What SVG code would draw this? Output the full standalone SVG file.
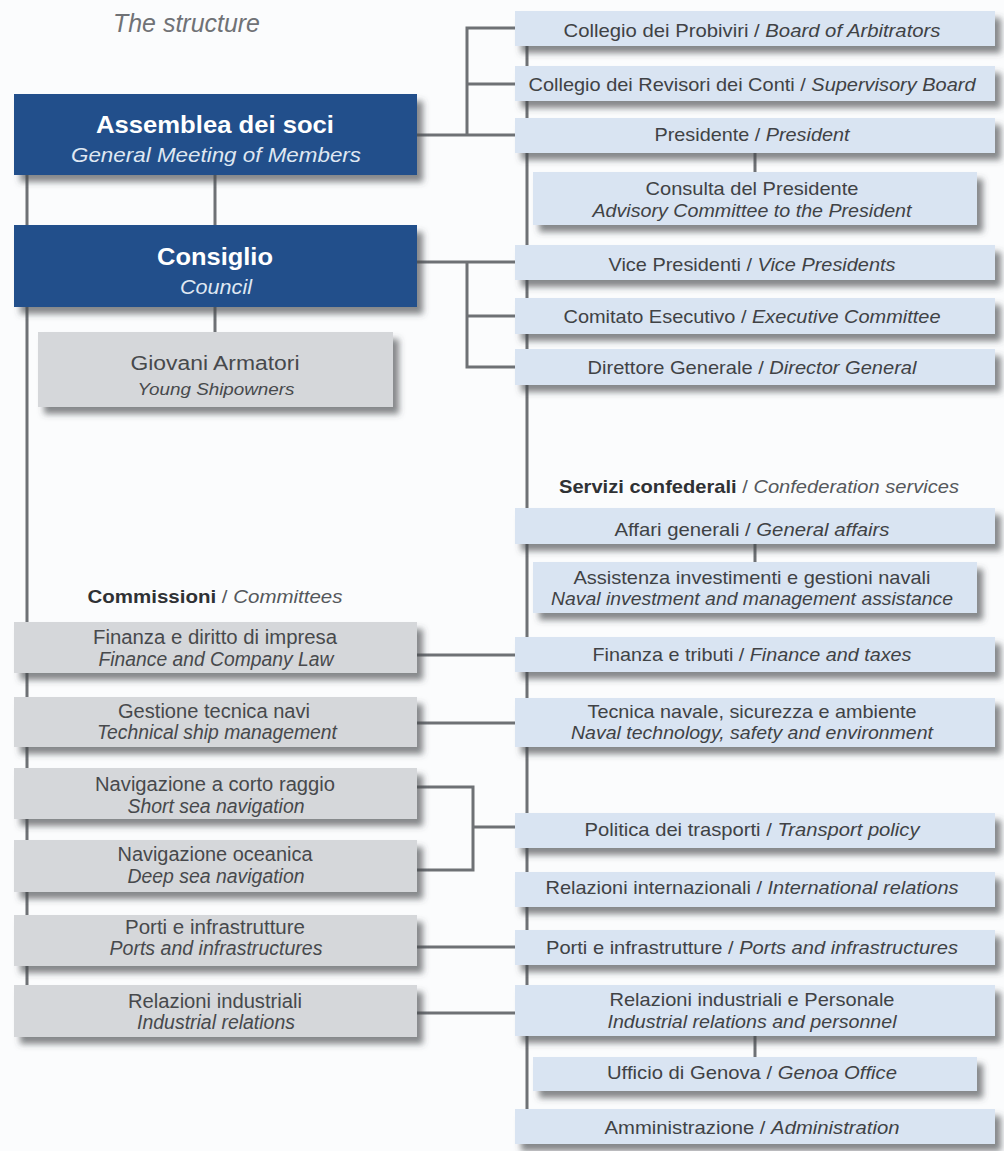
<svg xmlns="http://www.w3.org/2000/svg" width="1004" height="1151" viewBox="0 0 1004 1151">
<defs>
<style>
.bg{fill:#fbfcfd}
.rb{fill:#d9e4f2}
.gb{fill:#d5d7da}
.db{fill:#22508b}
.sh{filter:url(#sh)}
text{font-family:"Liberation Sans",Arial,sans-serif;text-anchor:middle}
.t{font-size:19px;fill:#404245}
.g{font-size:20px;fill:#47494c}
.w{font-size:24px;font-weight:bold;fill:#ffffff}
.wi{font-size:21px;font-style:italic;fill:#dfe7f2}
.i{font-style:italic}
.b{font-weight:bold;fill:#2f3134}
.h{font-size:19px;fill:#55585c}
.title{font-size:25px;font-style:italic;fill:#707276;text-anchor:start}
.conn line,.conn path{stroke:#6e7175;stroke-width:3;fill:none}
</style>
<filter id="sh" x="-5%" y="-25%" width="115%" height="180%">
<feDropShadow dx="6" dy="7" stdDeviation="3" flood-color="#45484d" flood-opacity="0.65"/>
</filter>
</defs>
<rect class="bg" x="0" y="0" width="1004" height="1151"/>
<text class="title" x="113" y="32" textLength="147" lengthAdjust="spacingAndGlyphs">The structure</text>

<g class="conn" id="connectors">
<line x1="27" y1="150" x2="27" y2="1005"/>
<line x1="215" y1="170" x2="215" y2="230"/>
<line x1="215" y1="300" x2="215" y2="340"/>
<line x1="527" y1="28" x2="527" y2="1125"/>
<path d="M410 135 H520"/>
<path d="M520 28 H467 V135"/>
<line x1="467" y1="84" x2="520" y2="84"/>
<path d="M410 262 H520"/>
<path d="M467 262 V367 H520"/>
<line x1="467" y1="316" x2="520" y2="316"/>
<line x1="755" y1="150" x2="755" y2="176"/>
<line x1="755" y1="540" x2="755" y2="566"/>
<line x1="755" y1="1032" x2="755" y2="1061"/>
<line x1="410" y1="655" x2="520" y2="655"/>
<line x1="410" y1="723" x2="520" y2="723"/>
<path d="M410 787 H473 V870 H410"/>
<line x1="473" y1="827" x2="520" y2="827"/>
<line x1="410" y1="947" x2="520" y2="947"/>
<line x1="410" y1="1013" x2="520" y2="1013"/>
</g>

<g id="assemblea"><rect class="db sh" x="14" y="94" width="403" height="81"/>
<text class="w" x="215" y="133" textLength="238" lengthAdjust="spacingAndGlyphs">Assemblea dei soci</text>
<text class="wi" x="216" y="162" textLength="290" lengthAdjust="spacingAndGlyphs">General Meeting of Members</text></g>

<g id="consiglio"><rect class="db sh" x="14" y="225" width="403" height="82"/>
<text class="w" x="215" y="265" textLength="116" lengthAdjust="spacingAndGlyphs">Consiglio</text>
<text class="wi" x="216" y="294" textLength="72" lengthAdjust="spacingAndGlyphs">Council</text></g>

<g id="giovani"><rect class="gb sh" x="38" y="332" width="355" height="75"/>
<text class="g" x="215" y="370" textLength="169" lengthAdjust="spacingAndGlyphs">Giovani Armatori</text>
<text class="g i" x="216" y="395" textLength="157" lengthAdjust="spacingAndGlyphs" style="font-size:17px">Young Shipowners</text></g>

<g id="r-probiviri"><rect class="rb sh" x="515" y="11" width="480" height="35"/>
<text class="t" x="752" y="37" textLength="377" lengthAdjust="spacingAndGlyphs">Collegio dei Probiviri / <tspan class="i">Board of Arbitrators</tspan></text></g>
<g id="r-revisori"><rect class="rb sh" x="515" y="66" width="480" height="35"/>
<text class="t" x="752" y="91" textLength="447" lengthAdjust="spacingAndGlyphs">Collegio dei Revisori dei Conti / <tspan class="i">Supervisory Board</tspan></text></g>
<g id="r-presidente"><rect class="rb sh" x="515" y="118" width="480" height="35"/>
<text class="t" x="752" y="141" textLength="195" lengthAdjust="spacingAndGlyphs">Presidente / <tspan class="i">President</tspan></text></g>
<g id="r-consulta"><rect class="rb sh" x="533" y="172" width="444" height="53"/>
<text class="t" x="752" y="195" textLength="213" lengthAdjust="spacingAndGlyphs">Consulta del Presidente</text>
<text class="t i" x="752" y="217" textLength="319" lengthAdjust="spacingAndGlyphs">Advisory Committee to the President</text></g>
<g id="r-vice"><rect class="rb sh" x="515" y="245" width="480" height="35"/>
<text class="t" x="752" y="271" textLength="287" lengthAdjust="spacingAndGlyphs">Vice Presidenti / <tspan class="i">Vice Presidents</tspan></text></g>
<g id="r-comitato"><rect class="rb sh" x="515" y="298" width="480" height="36"/>
<text class="t" x="752" y="323" textLength="377" lengthAdjust="spacingAndGlyphs">Comitato Esecutivo / <tspan class="i">Executive Committee</tspan></text></g>
<g id="r-direttore"><rect class="rb sh" x="515" y="349" width="480" height="36"/>
<text class="t" x="752" y="374" textLength="329" lengthAdjust="spacingAndGlyphs">Direttore Generale / <tspan class="i">Director General</tspan></text></g>

<text class="h" x="759" y="493" textLength="400" lengthAdjust="spacingAndGlyphs"><tspan class="b">Servizi confederali</tspan> / <tspan class="i">Confederation services</tspan></text>

<g id="r-affari"><rect class="rb sh" x="515" y="508" width="480" height="36"/>
<text class="t" x="752" y="536" textLength="275" lengthAdjust="spacingAndGlyphs">Affari generali / <tspan class="i">General affairs</tspan></text></g>
<g id="r-assistenza"><rect class="rb sh" x="533" y="562" width="444" height="51"/>
<text class="t" x="752" y="584" textLength="357" lengthAdjust="spacingAndGlyphs">Assistenza investimenti e gestioni navali</text>
<text class="t i" x="752" y="605" textLength="402" lengthAdjust="spacingAndGlyphs">Naval investment and management assistance</text></g>
<g id="r-finanza"><rect class="rb sh" x="515" y="637" width="480" height="35"/>
<text class="t" x="752" y="661" textLength="319" lengthAdjust="spacingAndGlyphs">Finanza e tributi / <tspan class="i">Finance and taxes</tspan></text></g>
<g id="r-tecnica"><rect class="rb sh" x="515" y="698" width="480" height="49"/>
<text class="t" x="752" y="718" textLength="329" lengthAdjust="spacingAndGlyphs">Tecnica navale, sicurezza e ambiente</text>
<text class="t i" x="752" y="739" textLength="362" lengthAdjust="spacingAndGlyphs">Naval technology, safety and environment</text></g>
<g id="r-politica"><rect class="rb sh" x="515" y="813" width="480" height="35"/>
<text class="t" x="752" y="836" textLength="335" lengthAdjust="spacingAndGlyphs">Politica dei trasporti / <tspan class="i">Transport policy</tspan></text></g>
<g id="r-internazionali"><rect class="rb sh" x="515" y="872" width="480" height="35"/>
<text class="t" x="752" y="894" textLength="413" lengthAdjust="spacingAndGlyphs">Relazioni internazionali / <tspan class="i">International relations</tspan></text></g>
<g id="r-porti"><rect class="rb sh" x="515" y="930" width="480" height="35"/>
<text class="t" x="752" y="954" textLength="412" lengthAdjust="spacingAndGlyphs">Porti e infrastrutture / <tspan class="i">Ports and infrastructures</tspan></text></g>
<g id="r-industriali"><rect class="rb sh" x="515" y="985" width="480" height="51"/>
<text class="t" x="752" y="1006" textLength="285" lengthAdjust="spacingAndGlyphs">Relazioni industriali e Personale</text>
<text class="t i" x="752" y="1028" textLength="289" lengthAdjust="spacingAndGlyphs">Industrial relations and personnel</text></g>
<g id="r-genova"><rect class="rb sh" x="533" y="1057" width="444" height="34"/>
<text class="t" x="752" y="1079" textLength="290" lengthAdjust="spacingAndGlyphs">Ufficio di Genova / <tspan class="i">Genoa Office</tspan></text></g>
<g id="r-amministrazione"><rect class="rb sh" x="515" y="1109" width="480" height="35"/>
<text class="t" x="752" y="1134" textLength="295" lengthAdjust="spacingAndGlyphs">Amministrazione / <tspan class="i">Administration</tspan></text></g>

<text class="h" x="215" y="603" textLength="255" lengthAdjust="spacingAndGlyphs"><tspan class="b">Commissioni</tspan> / <tspan class="i">Committees</tspan></text>

<g id="c-finanza"><rect class="gb sh" x="14" y="622" width="403" height="51"/>
<text class="g" x="215" y="644" textLength="244" lengthAdjust="spacingAndGlyphs">Finanza e diritto di impresa</text>
<text class="g i" x="216" y="666" textLength="235" lengthAdjust="spacingAndGlyphs">Finance and Company Law</text></g>
<g id="c-gestione"><rect class="gb sh" x="14" y="697" width="403" height="50"/>
<text class="g" x="214" y="718" textLength="192" lengthAdjust="spacingAndGlyphs">Gestione tecnica navi</text>
<text class="g i" x="217" y="739" textLength="240" lengthAdjust="spacingAndGlyphs">Technical ship management</text></g>
<g id="c-corto"><rect class="gb sh" x="14" y="768" width="403" height="51"/>
<text class="g" x="215" y="791" textLength="240" lengthAdjust="spacingAndGlyphs">Navigazione a corto raggio</text>
<text class="g i" x="216" y="813" textLength="177" lengthAdjust="spacingAndGlyphs">Short sea navigation</text></g>
<g id="c-oceanica"><rect class="gb sh" x="14" y="840" width="403" height="52"/>
<text class="g" x="215" y="861" textLength="195" lengthAdjust="spacingAndGlyphs">Navigazione oceanica</text>
<text class="g i" x="216" y="883" textLength="177" lengthAdjust="spacingAndGlyphs">Deep sea navigation</text></g>
<g id="c-porti"><rect class="gb sh" x="14" y="915" width="403" height="51"/>
<text class="g" x="215" y="934" textLength="180" lengthAdjust="spacingAndGlyphs">Porti e infrastrutture</text>
<text class="g i" x="216" y="955" textLength="213" lengthAdjust="spacingAndGlyphs">Ports and infrastructures</text></g>
<g id="c-industriali"><rect class="gb sh" x="14" y="985" width="403" height="52"/>
<text class="g" x="215" y="1008" textLength="174" lengthAdjust="spacingAndGlyphs">Relazioni industriali</text>
<text class="g i" x="216" y="1029" textLength="158" lengthAdjust="spacingAndGlyphs">Industrial relations</text></g>
</svg>
